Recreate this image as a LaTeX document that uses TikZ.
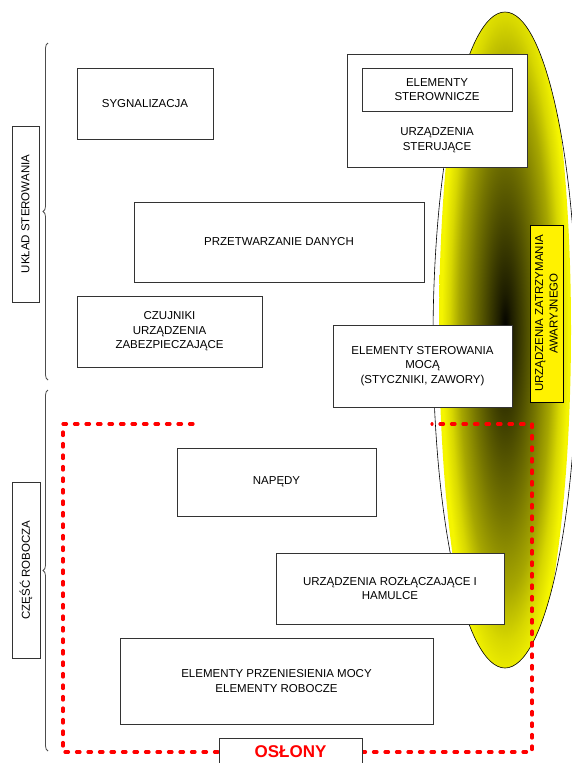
\documentclass[tikz,border=0pt]{standalone}
\usepackage{fontspec}
\setmainfont{Liberation Sans}
\usetikzlibrary{decorations.pathreplacing}
\definecolor{yel}{RGB}{245,245,0}
\definecolor{redd}{RGB}{255,0,0}
\pgfdeclareradialshading{emerg}{\pgfpoint{0bp}{0bp}}{color(0bp)=(black); color(2.5bp)=(black!88!yel); color(7.5bp)=(black!70!yel); color(12.5bp)=(black!52!yel); color(17.5bp)=(black!32!yel); color(21bp)=(black!12!yel); color(24bp)=(yel); color(50bp)=(yel)}
\tikzset{
  box/.style={draw=black!80, line width=0.8pt, fill=white, align=center, inner sep=0pt,
    font=\fontsize{11.5}{14.5}\selectfont},
  plain/.style={align=center, inner sep=0pt, font=\fontsize{11.5}{14.5}\selectfont},
  vlabel/.style={box, rotate=90},
  dashline/.style={draw=redd, line width=3.2pt, dash pattern=on 3.5pt off 8pt, line cap=round},
  bracestyle/.style={draw=black!70, line width=0.8pt, decorate, decoration={brace, amplitude=5pt}}
}
\begin{document}
\begin{tikzpicture}[x=1pt,y=-1pt]
\useasboundingbox (0,0) rectangle (572,763);
\fill[white] (0,0) rectangle (572,763);
% emergency ellipse
\begin{scope}
  \clip (0,0) rectangle (572,763);
  \begin{scope}
    \clip (505,340) ellipse [x radius=72pt, y radius=328pt];
    \shade[shading=emerg] (505,330) ellipse [x radius=66pt, y radius=370pt];
  \end{scope}
  \draw[black, line width=0.6pt] (505,340) ellipse [x radius=72pt, y radius=328pt];
\end{scope}
% dashed guard outline
\coordinate (d1) at (193,424);
\coordinate (d2) at (63,424);
\coordinate (d3) at (63,752);
\coordinate (d4) at (219,752);
\coordinate (d5) at (362,752);
\coordinate (d6) at (532,752);
\coordinate (d7) at (532,424);
\coordinate (d8) at (432,424);
\draw[dashline] (d1) -- (d2) -- (d3) -- (d4);
\draw[dashline] (d5) -- (d6) -- (d7) -- (d8);
% boxes
\node[box, minimum width=136pt, minimum height=71pt] (syg) at (145,103.5) {SYGNALIZACJA};
\node[box, minimum width=180pt, minimum height=113pt] (ster) at (437,110.5) {};
\node[box, minimum width=150pt, minimum height=43pt] (elst) at (437,89.5) {ELEMENTY\\STEROWNICZE};
\node[plain] (stert) at (437,140) {URZĄDZENIA\\STERUJĄCE};
\node[box, minimum width=290pt, minimum height=80pt] (prz) at (279,242) {PRZETWARZANIE DANYCH};
\node[box, minimum width=185pt, minimum height=71pt] (czu) at (169.5,331.5) {CZUJNIKI\\URZĄDZENIA\\ZABEZPIECZAJĄCE};
\node[box, minimum width=179pt, minimum height=82pt] (moc) at (422.5,366) {ELEMENTY STEROWANIA\\MOCĄ\\(STYCZNIKI, ZAWORY)};
\node[box, minimum width=199pt, minimum height=68pt] (nap) at (276.5,482) {NAPĘDY};
\node[box, minimum width=228pt, minimum height=71pt] (roz) at (390,588.5) {URZĄDZENIA ROZŁĄCZAJĄCE I\\HAMULCE};
\node[box, minimum width=313pt, minimum height=86pt] (prn) at (276.5,681) {ELEMENTY PRZENIESIENIA MOCY\\ELEMENTY ROBOCZE};
\node[box, minimum width=143pt, minimum height=28pt, text=redd, font=\fontsize{17}{20}\selectfont\bfseries] (osl) at (290.5,752) {OSŁONY};
% vertical labels
\node[vlabel, minimum width=176pt, minimum height=27pt] (uk) at (25.5,214) {UKŁAD STEROWANIA};
\node[vlabel, minimum width=176pt, minimum height=28pt] (cz) at (26,570) {CZĘŚĆ ROBOCZA};
\node[vlabel, fill=yellow, draw=black, minimum width=177pt, minimum height=33pt] (uza) at (546.5,313.5) {URZĄDZENIA ZATRZYMANIA\\AWARYJNEGO};
% braces
\coordinate (b1) at (48,380);
\coordinate (b2) at (48,43);
\coordinate (b3) at (48,751);
\coordinate (b4) at (48,390);
\draw[bracestyle] (b1) -- (b2);
\draw[bracestyle] (b3) -- (b4);
\end{tikzpicture}
\end{document}
